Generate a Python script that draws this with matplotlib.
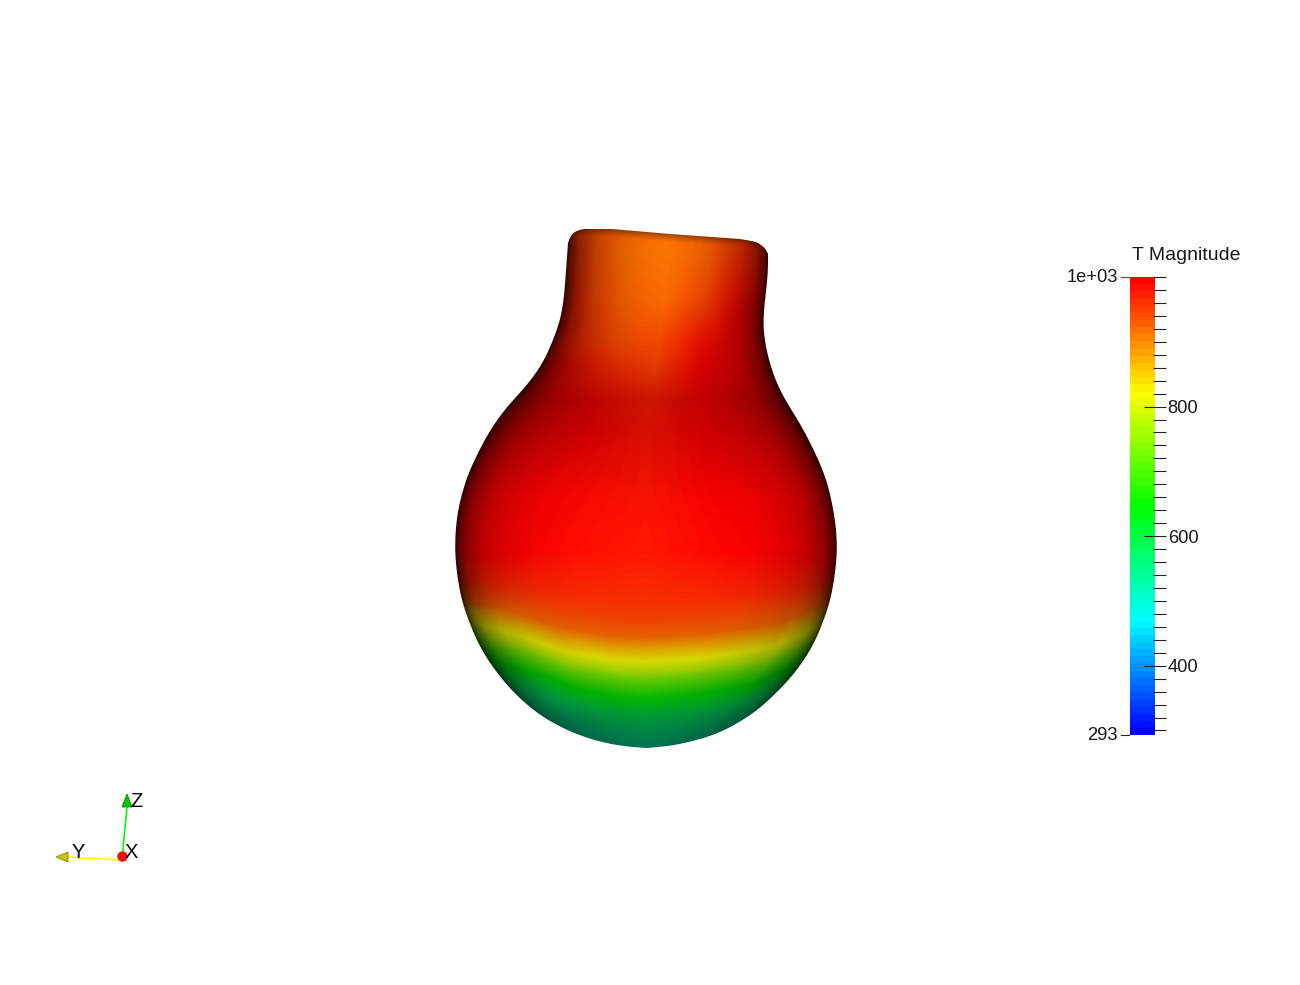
import matplotlib
matplotlib.use("Agg")
import matplotlib.pyplot as plt
import numpy as np
from matplotlib.colors import LinearSegmentedColormap
from matplotlib.patches import Polygon

# bulb silhouette
top_x = [568, 570, 574, 582, 612, 670, 740, 757, 765, 768]
top_y = [243, 237, 232, 229, 229, 234, 239, 242, 248, 254]
right_x = [768, 769, 767, 763, 763, 767, 773, 783, 800, 815, 827, 833, 837, 837, 831, 819, 811, 792,
           762, 748, 726, 709, 673, 646]
right_y = [254, 262, 283, 317, 333, 353, 375, 397, 423, 452, 480, 507, 533, 560, 600, 633, 650, 677,
           707, 717, 730, 737, 746, 748]
left_x = [568, 566, 564, 560, 553, 545, 535, 523, 510, 498, 487, 477, 468, 462, 457, 455, 455,
          461, 471, 481, 502, 521, 542, 566, 592, 619, 646]
left_y = [243, 270, 300, 323, 340, 360, 375, 390, 403, 418, 435, 455, 473, 493, 513, 537, 560,
          600, 627, 650, 680, 700, 717, 730, 740, 746, 748]

# temperature on the surface, rows top to bottom, columns across the width
field_y = [232, 250, 300, 340, 370, 400, 430, 480, 550, 600, 620, 637, 650, 662, 672, 680, 690,
           700, 720, 748]
field_u = [-1, -0.7, -0.4, 0, 0.4, 0.7, 1]
field_t = [
    [960, 940, 925, 920, 930, 950, 970],
    [970, 940, 920, 915, 930, 960, 985],
    [985, 950, 930, 925, 950, 990, 1000],
    [990, 965, 945, 945, 985, 1000, 1000],
    [1000, 990, 970, 955, 1000, 1000, 1000],
    [1000, 1000, 995, 980, 1000, 1000, 1000],
    [1000, 1000, 1000, 985, 1000, 1000, 1000],
    [1000, 1000, 995, 985, 1000, 1000, 1000],
    [1000, 1000, 990, 982, 995, 1000, 1000],
    [975, 970, 968, 965, 970, 975, 975],
    [950, 950, 950, 950, 950, 950, 950],
    [925, 925, 925, 925, 925, 925, 925],
    [870, 870, 870, 870, 870, 870, 870],
    [820, 820, 820, 820, 820, 820, 820],
    [783, 783, 783, 783, 783, 783, 783],
    [735, 735, 735, 735, 735, 735, 735],
    [690, 690, 690, 690, 690, 690, 690],
    [645, 645, 645, 645, 645, 645, 645],
    [575, 575, 575, 575, 575, 575, 575],
    [525, 525, 525, 525, 525, 525, 525],
]

# where the yellow band runs across the lower bulb
band_u = [-1, -0.9, -0.73, -0.5, -0.22, 0, 0.38, 0.58, 0.77, 0.93, 1]
band_y = [620, 628, 637, 652, 660, 662, 658, 653, 647, 633, 625]
band_wy = [560, 610, 700, 748]
band_w = [0, 1, 1, 0.3]

# lighting
light_y = [232, 300, 350, 400, 430, 500, 550, 600, 630, 662, 700, 720, 748]
light_v = [1.0, 1.0, 0.95, 0.8, 0.83, 0.97, 1.0, 0.97, 0.92, 0.87, 0.75, 0.62, 0.5]
edge_dist = [0, 4, 12, 28, 50, 80, 120]
edge_shade = [0.18, 0.35, 0.55, 0.75, 0.87, 0.96, 1.0]
rim_dist = [0, 3, 8]
rim_shade = [0.6, 0.8, 1.0]
bottom_lift = 60

# colour bar
t_min = 293
t_max = 1000
bar_colors = ["#0000ff", "#00ffff", "#00ff00", "#ffff00", "#ff0000"]
major_ticks = [400, 600, 800]
minor_ticks = list(range(300, 1001, 20))
bar_title = "T Magnitude"

# orientation triad
origin = (122, 857)
y_end = (68, 857)
y_tip = [(56, 857), (68, 852), (68, 862)]
z_end = (127, 807)
z_tip = [(127, 794), (122, 807), (132, 807)]

plt.rcParams["font.family"] = ["Liberation Sans", "DejaVu Sans"]


def resample(xs, ys, step=1.0):
    p = np.column_stack([xs, ys]).astype(float)
    s = np.r_[0, np.cumsum(np.hypot(*np.diff(p, axis=0).T))]
    t = np.arange(0, s[-1], step)
    return np.column_stack([np.interp(t, s, p[:, 0]), np.interp(t, s, p[:, 1])])


def smooth_chain(xs, ys, win=25, passes=3):
    # read points are a bit noisy, so run a box filter along the arc
    p = resample(xs, ys)
    kernel = np.ones(win) / win
    pad = win * passes
    for _ in range(passes):
        head = 2 * p[0] - p[1:pad + 1][::-1]
        tail = 2 * p[-1] - p[-pad - 1:-1][::-1]
        q = np.vstack([head, p, tail])
        p = np.column_stack([np.convolve(q[:, i], kernel, mode="same")[pad:-pad] for i in (0, 1)])
    return p


def edge_distance(xg, yg, edge):
    pts = edge[::3]
    out = np.zeros(xg.shape)
    for i in range(xg.shape[0]):
        dx = xg[i][:, None] - pts[:, 0]
        dy = yg[i][:, None] - pts[:, 1]
        out[i] = np.sqrt((dx**2 + dy**2).min(axis=1))
    return out


def bulb_image(left, right, top, cmap):
    xs = np.arange(450, 842)
    ys = np.arange(225, 752)
    xg, yg = np.meshgrid(xs + 0.5, ys + 0.5)
    lx = np.interp(yg, left[:, 1], left[:, 0])
    rx = np.interp(yg, right[:, 1], right[:, 0])
    mid = 0.5 * (lx + rx)
    half = np.maximum(0.5 * (rx - lx), 1)
    u = np.clip((xg - mid) / half, -1, 1)

    # slide the rows along the band, then look up in the table
    shift = (662 - np.interp(u, band_u, band_y)) * np.interp(yg, band_wy, band_w)
    table = np.array(field_t, dtype=float)
    temp = np.zeros(xg.shape)
    yw = yg + shift
    for j in range(len(field_u) - 1):
        inside = (u >= field_u[j]) & (u <= field_u[j + 1])
        f = (u[inside] - field_u[j]) / (field_u[j + 1] - field_u[j])
        t0 = np.interp(yw[inside], field_y, table[:, j])
        t1 = np.interp(yw[inside], field_y, table[:, j + 1])
        temp[inside] = t0 * (1 - f) + t1 * f

    d = edge_distance(xg, yg, np.vstack([left, right]))
    # the underside faces the camera more than the flanks do
    centre = np.clip(1 - np.abs(xg - 646) / 190, 0, 1) ** 2
    d = d + bottom_lift * np.interp(yg, [650, 748], [0, 1]) * centre
    shade = np.interp(d, edge_dist, edge_shade) * np.interp(yg, light_y, light_v)
    top_line = np.interp(xg, top[:, 0], top[:, 1])
    shade *= np.interp(yg - top_line, rim_dist, rim_shade)

    rgb = cmap((temp - t_min) / (t_max - t_min))[:, :, :3] * shade[:, :, None]
    return rgb, (xs[0], xs[-1] + 1, ys[-1] + 1, ys[0])


def plot_bulb(ax):
    cmap = LinearSegmentedColormap.from_list("t", bar_colors, N=256)
    top = smooth_chain(top_x, top_y, win=5)
    right = smooth_chain(right_x, right_y)
    left = smooth_chain(left_x, left_y)
    rgb, extent = bulb_image(left, right, top, cmap)
    outline = np.vstack([top, right, left[::-1]])
    im = ax.imshow(rgb, extent=extent, interpolation="nearest", aspect="auto", zorder=2)
    im.set_clip_path(Polygon(outline, closed=True, transform=ax.transData))


def plot_triad(ax):
    ax.plot([origin[0], y_end[0]], [origin[1] + 3, y_end[1]], color="#ffff00", lw=1.2, zorder=3)
    ax.plot([origin[0], z_end[0]], [origin[1] + 3, z_end[1]], color="#00ff00", lw=1.2, zorder=3)
    ax.add_patch(Polygon(y_tip, closed=True, fc="#c8c400", ec="#8a8600", lw=0.6, zorder=4))
    ax.add_patch(Polygon(z_tip, closed=True, fc="#00c800", ec="#009000", lw=0.6, zorder=4))
    ax.plot(origin[0], origin[1] - 1, "o", ms=7.5, color="#f01010", mew=0, zorder=4)
    ax.text(136.5, 801.5, "Z", fontsize=14.5, ha="center", va="center", color="k", zorder=5)
    ax.text(78, 852.5, "Y", fontsize=14.5, ha="center", va="center", color="k", zorder=5)
    ax.text(131, 852.5, "X", fontsize=14.5, ha="center", va="center", color="k", zorder=5)


def plot_bar(fig, ax):
    W, H = fig.get_size_inches() * fig.dpi
    # axes reach to the tick ends, the colour strip stops short of them
    cax = fig.add_axes([1130 / W, 1 - 735 / H, 36 / W, 458 / H], facecolor="none")
    cmap = LinearSegmentedColormap.from_list("bar", bar_colors, N=64)
    edges = np.linspace(t_min, t_max, 65)
    cax.pcolormesh([0, 25 / 36], edges, (edges[:-1] + edges[1:])[:, None] / 2,
                   cmap=cmap, vmin=t_min, vmax=t_max)
    cax.set_xlim(0, 1)
    cax.set_ylim(t_min, t_max)
    for s in cax.spines.values():
        s.set_visible(False)
    cax.xaxis.set_visible(False)
    cax.yaxis.tick_right()
    cax.set_yticks(major_ticks)
    cax.set_yticks([t for t in minor_ticks if t not in major_ticks], minor=True)
    cax.tick_params(axis="y", which="major", direction="in", length=15.84, width=0.8,
                    color="#222222", labelsize=13.2, labelcolor="#1a1a1a", pad=1.2)
    cax.tick_params(axis="y", which="minor", direction="in", length=9.36, width=0.8, color="#222222")
    ax.plot([1121, 1129], [276.5, 276.5], color="#ff0000", lw=0.8)
    ax.plot([1121, 1129], [734.5, 734.5], color="#0000ff", lw=0.8)
    ax.text(1117.5, 278, "1e+03", fontsize=13.2, ha="right", va="center", color="#1a1a1a")
    ax.text(1117.5, 736, str(t_min), fontsize=13.2, ha="right", va="center", color="#1a1a1a")
    ax.text(1186.5, 256, bar_title, fontsize=14, ha="center", va="center", color="#1a1a1a")


if __name__ == "__main__":
    fig = plt.figure(figsize=(13, 9.85), dpi=100)
    ax = fig.add_axes([0, 0, 1, 1])
    plot_bulb(ax)
    plot_triad(ax)
    ax.set_xlim(0, 1300)
    ax.set_ylim(985, 0)
    ax.axis("off")
    plot_bar(fig, ax)
    fig.savefig("out.png", dpi=100)
